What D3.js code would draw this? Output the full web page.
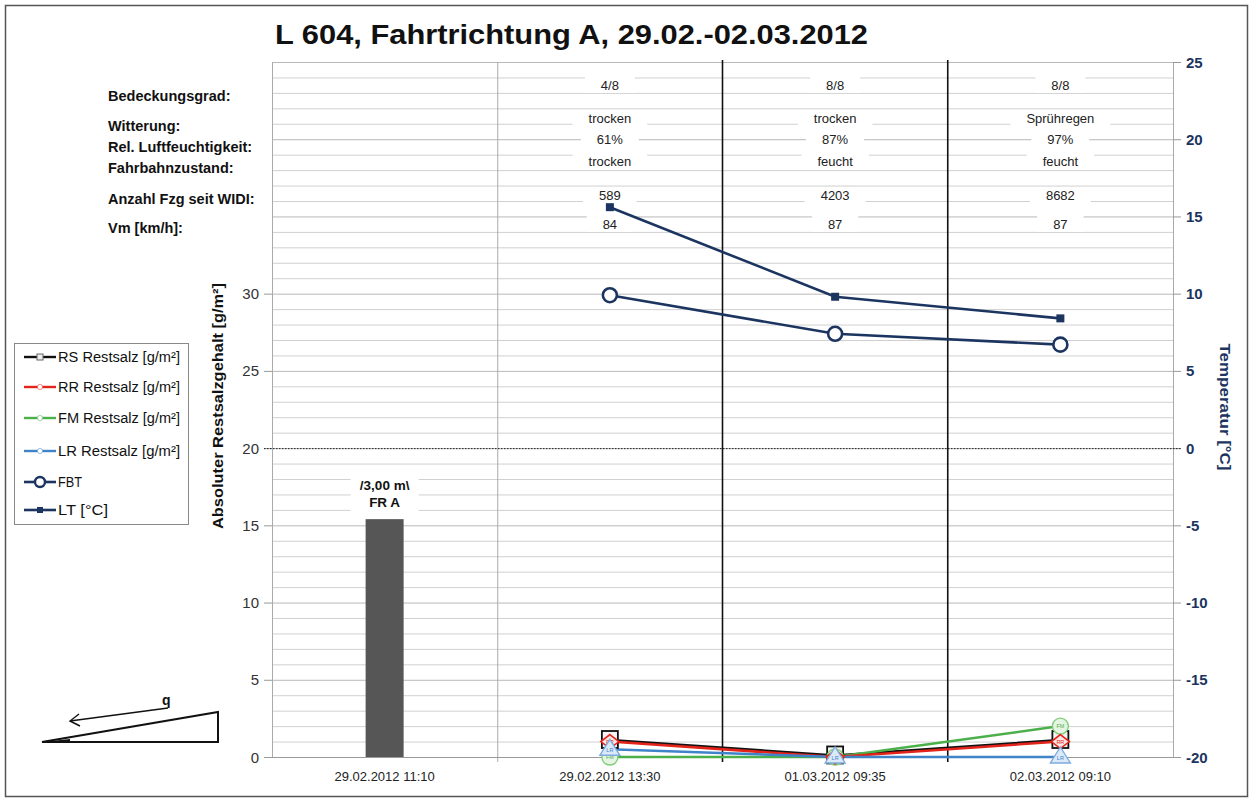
<!DOCTYPE html>
<html><head><meta charset="utf-8">
<script src="https://cdn.jsdelivr.net/npm/d3@7"></script>
<style>body{margin:0;background:#fff}svg{display:block;font-family:"Liberation Sans",Arial,sans-serif}</style>
</head><body><svg id="c" width="1253" height="802"></svg>
<script>
const categories = ["29.02.2012 11:10","29.02.2012 13:30","01.03.2012 09:35","02.03.2012 09:10"];
const barValues = [15.4, null, null, null];
const barLabel = ["/3,00 m\\", "FR A"];
const rsValues = [null, 1.1, 0.1, 1.1];
const rrValues = [null, 1.0, 0.0, 1.0];
const fmValues = [null, 0.0, 0.0, 2.0];
const lrValues = [null, 0.5, 0.0, 0.0];
const fbtValues = [null, 9.9, 7.4, 6.7];
const ltValues = [null, 15.6, 9.8, 8.4];
const leftTicks = [0,5,10,15,20,25,30];
const rightTicks = [-20,-15,-10,-5,0,5,10,15,20,25];
const rowLabels = ["Bedeckungsgrad:","Witterung:","Rel. Luftfeuchtigkeit:","Fahrbahnzustand:","Anzahl Fzg seit WIDI:","Vm [km/h]:"];
const bedeckung = [null,"4/8","8/8","8/8"];
const witterung = [null,"trocken","trocken","Sprühregen"];
const feuchte = [null,"61%","87%","97%"];
const fahrbahn = [null,"trocken","feucht","feucht"];
const anzahl = [null,"589","4203","8682"];
const vm = [null,"84","87","87"];
const legendLabels = ["RS Restsalz [g/m²]","RR Restsalz [g/m²]","FM Restsalz [g/m²]","LR Restsalz [g/m²]","FBT","LT [°C]"];
const title = "L 604, Fahrtrichtung A, 29.02.-02.03.2012";

const NAVY = "#1c3560", RED = "#e3241b", GREEN = "#4cb04a", BLUE = "#3f84c9", BLACK = "#111";
const svg = d3.select("#c");
const L = 272, R = 1173, T = 62, B = 757;
const x = d3.scaleBand().domain(categories).range([L, R]);
const y = d3.scaleLinear().domain([0, 45]).range([B, T]);
const yT = d3.scaleLinear().domain([-20, 25]).range([B, T]);
const cx = i => x(categories[i]) + x.bandwidth() / 2;

// frame
svg.append("rect").attr("x",5.5).attr("y",5.5).attr("width",1242).attr("height",791)
  .attr("fill","#fff").attr("stroke","#555").attr("stroke-width",1.5);

// gridlines
svg.append("g").selectAll("line").data(d3.range(0, 46, 1)).join("line")
  .attr("x1", L).attr("x2", R).attr("y1", d => y(d) + 0.5).attr("y2", d => y(d) + 0.5)
  .attr("stroke", d => d % 5 === 0 ? "#b8b8b8" : "#d0d0d0").attr("stroke-width", 1);

// vertical category line (gray) and separators (black)
svg.append("line").attr("x1", x(categories[1]) + .5).attr("x2", x(categories[1]) + .5)
  .attr("y1", T).attr("y2", B + 5).attr("stroke", "#aaa");
[2, 3].forEach(i => svg.append("line").attr("x1", x(categories[i])).attr("x2", x(categories[i]))
  .attr("y1", T - 2).attr("y2", B + 5).attr("stroke", "#111").attr("stroke-width", 1.6));

// axes lines
svg.append("line").attr("x1", L + .5).attr("x2", L + .5).attr("y1", T).attr("y2", B).attr("stroke", "#aaa");
svg.append("line").attr("x1", R + .5).attr("x2", R + .5).attr("y1", T).attr("y2", B).attr("stroke", "#aaa");
svg.append("line").attr("x1", L).attr("x2", R).attr("y1", B + .5).attr("y2", B + .5).attr("stroke", "#999");

// left axis ticks
const gl = svg.append("g");
gl.selectAll("line").data(leftTicks).join("line")
  .attr("x1", L - 8).attr("x2", L).attr("y1", d => y(d) + .5).attr("y2", d => y(d) + .5).attr("stroke", "#999");
gl.selectAll("text").data(leftTicks).join("text")
  .attr("x", L - 13).attr("y", d => y(d) + 5.5).attr("text-anchor", "end")
  .attr("font-size", 15).attr("fill", "#333").text(d => d);

// right axis ticks
const gr = svg.append("g");
gr.selectAll("line").data(rightTicks).join("line")
  .attr("x1", R).attr("x2", R + 8).attr("y1", d => yT(d) + .5).attr("y2", d => yT(d) + .5).attr("stroke", "#999");
gr.selectAll("text").data(rightTicks).join("text")
  .attr("x", R + 13).attr("y", d => yT(d) + 5.5)
  .attr("font-size", 15).attr("font-weight", "bold").attr("fill", NAVY).text(d => d);

// 0°C dotted line
svg.append("line").attr("x1", L - 8).attr("x2", R + 8).attr("y1", yT(0) + .5).attr("y2", yT(0) + .5)
  .attr("stroke", "#222").attr("stroke-dasharray", "1.5,1.5");

// x labels
svg.append("g").selectAll("text").data(categories).join("text")
  .attr("x", (d, i) => cx(i)).attr("y", 781).attr("text-anchor", "middle")
  .attr("font-size", 13).attr("fill", "#222").text(d => d);

// axis titles
svg.append("text").attr("transform", "translate(223,406) rotate(-90)").attr("text-anchor", "middle")
  .attr("font-size", 15).attr("font-weight", "bold").attr("fill", "#111")
  .attr("textLength", 246).attr("lengthAdjust", "spacingAndGlyphs").text("Absoluter Restsalzgehalt [g/m²]");
svg.append("text").attr("transform", "translate(1220,407) rotate(90)").attr("text-anchor", "middle")
  .attr("font-size", 15.5).attr("font-weight", "bold").attr("fill", NAVY)
  .attr("textLength", 127).attr("lengthAdjust", "spacingAndGlyphs").text("Temperatur [°C]");

// title
svg.append("text").attr("x", 275).attr("y", 44).attr("font-size", 28).attr("font-weight", "bold")
  .attr("fill", "#111").attr("textLength", 593).attr("lengthAdjust", "spacingAndGlyphs").text(title);

// row labels
const rowY = [101, 131, 152, 173, 204, 233];
svg.append("g").selectAll("text").data(rowLabels).join("text")
  .attr("x", 108).attr("y", (d, i) => rowY[i]).attr("font-size", 14.5).attr("font-weight", "bold")
  .attr("fill", "#111").text(d => d);

// data rows with white boxes
const dataRows = [bedeckung, witterung, feuchte, fahrbahn, anzahl, vm];
const dataY = [85, 118, 139, 161, 195, 224];
dataRows.forEach((row, r) => {
  row.forEach((v, i) => {
    if (v == null) return;
    const g = svg.append("g");
    const t = g.append("text").attr("x", cx(i)).attr("y", dataY[r] + 4.5).attr("text-anchor", "middle")
      .attr("font-size", 13).attr("fill", "#222").text(v);
    const w = t.node().getComputedTextLength();
    g.insert("rect", "text").attr("x", cx(i) - w / 2 - 16).attr("y", dataY[r] - 8)
      .attr("width", w + 32).attr("height", 16).attr("fill", "#fff");
  });
});

// bar
const bw = 38;
svg.append("g").selectAll("rect").data(barValues.map((v, i) => ({v, i})).filter(d => d.v != null)).join("rect")
  .attr("x", d => cx(d.i) - bw / 2).attr("y", d => y(d.v)).attr("width", bw).attr("height", d => B - y(d.v))
  .attr("fill", "#565656");
barValues.forEach((v, i) => {
  if (v == null) return;
  svg.append("rect").attr("x", cx(i) - 34).attr("y", y(v) - 45).attr("width", 68).attr("height", 40).attr("fill", "#fff");
  barLabel.forEach((s, k) => svg.append("text").attr("x", cx(i)).attr("y", y(v) - 29 + k * 17)
    .attr("text-anchor", "middle").attr("font-size", 13.5).attr("font-weight", "bold").attr("fill", "#111").text(s));
});

// line helper
function series(vals, scale, color, width) {
  const pts = vals.map((v, i) => ({v, i})).filter(d => d.v != null);
  svg.append("path").datum(pts).attr("fill", "none").attr("stroke", color).attr("stroke-width", width)
    .attr("d", d3.line().x(d => cx(d.i)).y(d => scale(d.v)));
  return pts;
}

// temperature lines
const ltPts = series(ltValues, yT, NAVY, 2.6);
svg.append("g").selectAll("rect").data(ltPts).join("rect")
  .attr("x", d => cx(d.i) - 4).attr("y", d => yT(d.v) - 4).attr("width", 8).attr("height", 8).attr("fill", NAVY);
const fbtPts = series(fbtValues, yT, NAVY, 2.6);
svg.append("g").selectAll("circle").data(fbtPts).join("circle")
  .attr("cx", d => cx(d.i)).attr("cy", d => yT(d.v)).attr("r", 7).attr("fill", "#fff")
  .attr("stroke", NAVY).attr("stroke-width", 2.6);

// salt lines
const rsPts = series(rsValues, y, BLACK, 2.5);
const fmPts = series(fmValues, y, GREEN, 2.5);
const rrPts = series(rrValues, y, RED, 2.5);
const lrPts = series(lrValues, y, BLUE, 2.5);

function tag(g, px, py, s, color) {
  g.append("text").attr("x", px).attr("y", py + 2).attr("text-anchor", "middle")
    .attr("font-size", 5.5).attr("fill", color).text(s);
}
rsPts.forEach(d => {
  svg.append("rect").attr("x", cx(d.i) - 8).attr("y", y(d.v) - 9).attr("width", 16).attr("height", 17)
    .attr("fill", "#f4f4f4").attr("stroke", BLACK).attr("stroke-width", 1.8);
});
fmPts.forEach(d => {
  const px = cx(d.i), py = y(d.v);
  const g = svg.append("g");
  g.append("circle").attr("cx", px).attr("cy", py).attr("r", 8)
    .attr("fill", "#e6f5e3").attr("stroke", "#7fcf78").attr("stroke-width", 1.4);
  tag(g, px, py, "FM", GREEN);
});
rrPts.forEach(d => {
  const px = cx(d.i), py = y(d.v);
  const g = svg.append("g");
  g.append("path").attr("d", `M${px},${py - 7}L${px + 9},${py}L${px},${py + 7}L${px - 9},${py}Z`)
    .attr("fill", "#fde6e3").attr("stroke", RED).attr("stroke-width", 1.6);
  tag(g, px, py, "RR", RED);
});
lrPts.forEach(d => {
  const px = cx(d.i), py = y(d.v);
  const g = svg.append("g");
  g.append("path").attr("d", `M${px},${py - 10}L${px + 10},${py + 6}L${px - 10},${py + 6}Z`)
    .attr("fill", "#dce9f8").attr("stroke", "#7eacdd").attr("stroke-width", 1.4);
  tag(g, px, py + 1, "LR", BLUE);
});

// legend
const lg = svg.append("g");
lg.append("rect").attr("x", 14.5).attr("y", 343.5).attr("width", 174).attr("height", 181)
  .attr("fill", "#fff").attr("stroke", "#888");
const legColors = [BLACK, RED, GREEN, BLUE, NAVY, NAVY];
const legY = [357, 387, 418, 451, 482, 510];
const legW = [122, 122, 122, 122, 24, 50];
legendLabels.forEach((s, k) => {
  const yy = legY[k];
  lg.append("line").attr("x1", 24).attr("x2", 56).attr("y1", yy).attr("y2", yy)
    .attr("stroke", legColors[k]).attr("stroke-width", k >= 4 ? 2.6 : 2.4);
  if (k === 0) lg.append("rect").attr("x", 37).attr("y", yy - 3).attr("width", 6).attr("height", 6)
    .attr("fill", "#eee").attr("stroke", "#666");
  if (k === 1 || k === 2 || k === 3) lg.append("circle").attr("cx", 40).attr("cy", yy).attr("r", 2.6)
    .attr("fill", "#fff").attr("stroke", legColors[k]).attr("stroke-opacity", 0.5);
  if (k === 4) lg.append("circle").attr("cx", 40).attr("cy", yy).attr("r", 5)
    .attr("fill", "#fff").attr("stroke", NAVY).attr("stroke-width", 2.4);
  if (k === 5) lg.append("rect").attr("x", 37).attr("y", yy - 3).attr("width", 6).attr("height", 6).attr("fill", NAVY);
  lg.append("text").attr("x", 58).attr("y", yy + 5).attr("font-size", 14).attr("fill", "#111")
    .attr("textLength", legW[k]).attr("lengthAdjust", "spacingAndGlyphs").text(s);
});

// wedge sketch
svg.append("path").attr("d", "M42,742L218,712L218,742Z").attr("fill", "none")
  .attr("stroke", "#111").attr("stroke-width", 2).attr("stroke-linejoin", "miter");
svg.append("path").attr("d", "M42,742L70,739L70,742Z").attr("fill", "#111");
svg.append("line").attr("x1", 168).attr("y1", 708).attr("x2", 70).attr("y2", 721).attr("stroke", "#111").attr("stroke-width", 1.4);
svg.append("path").attr("d", "M79,714L70,721L80,726").attr("fill", "none").attr("stroke", "#111").attr("stroke-width", 1.4);
svg.append("text").attr("x", 162).attr("y", 705).attr("font-size", 14).attr("font-weight", "bold").attr("fill", "#111").text("q");
</script></body></html>
